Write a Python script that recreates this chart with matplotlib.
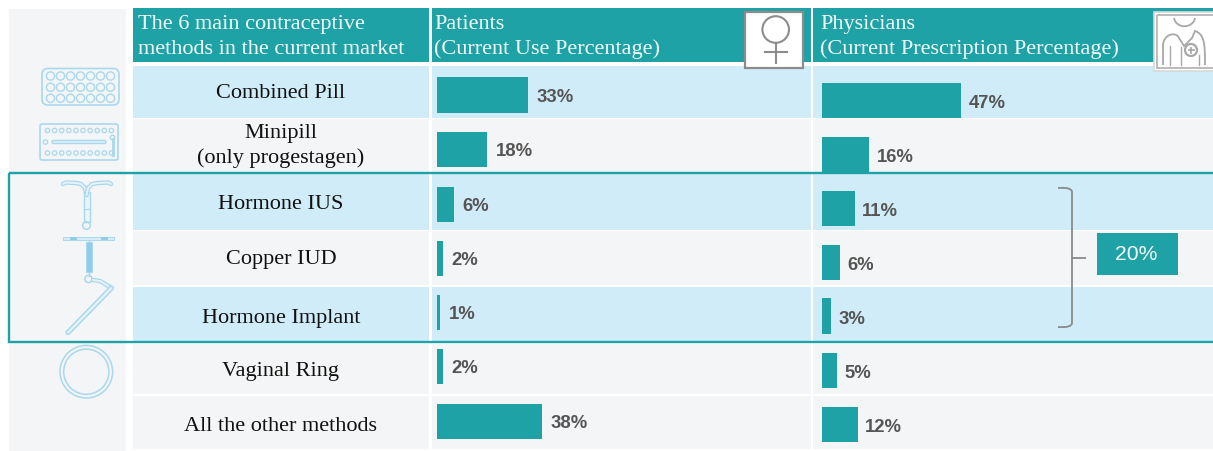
import matplotlib
matplotlib.use("Agg")
import matplotlib.pyplot as plt
from matplotlib.patches import Rectangle, FancyBboxPatch, Circle, PathPatch
from matplotlib.path import Path

methods = ["Combined Pill", "Minipill\n(only progestagen)", "Hormone IUS", "Copper IUD",
           "Hormone Implant", "Vaginal Ring", "All the other methods"]
patients = [33, 18, 6, 2, 1, 2, 38]
physicians = [47, 16, 11, 6, 3, 5, 12]
header_titles = ["The 6 main contraceptive\nmethods in the current market",
                 "Patients\n(Current Use Percentage)",
                 "Physicians\n(Current Prescription Percentage)"]
group_total = "20%"

TEAL = "#1fa2a5"; BLUE = "#d0ecf9"; GREY = "#f4f5f6"; ICON = "#a9d8ee"; DARK = "#555555"; TXT = "#111111"
PANEL = "#f3f5f7"
W, H = 1213, 452
YLIM = (H - 1, -1)
fig = plt.figure(figsize=(W/100, H/100), dpi=100, facecolor="white")
ax = fig.add_axes([0, 0, 1, 1]); ax.set_xlim(0, W); ax.set_ylim(*YLIM); ax.axis("off")
SERIF = "Liberation Serif"; SANS = "Liberation Sans"

def rect(x0, y0, x1, y1, **k):
    k.setdefault("lw", 0)
    ax.add_patch(Rectangle((x0, y0), x1-x0, y1-y0, **k))

rect(9, 9, 126, 453, fc=PANEL)
cols = [(133, 429), (432, 811), (813, 1213)]
rows = [(65.5, 117.5), (118.5, 172), (174, 230), (231, 285), (287, 341), (344, 394), (396, 449)]
shades = [BLUE, GREY, BLUE, GREY, BLUE, GREY, GREY]
for (x0, x1), t, tx in zip(cols, header_titles, [138, 434, 820]):
    rect(x0, 8, x1, 61.5, fc=TEAL)
    ax.text(tx, 36, t, color="#f2fbfb", family=SERIF, fontsize=16, va="center", ha="left", linespacing=1.36)
for (y0, y1), s in zip(rows, shades):
    for x0, x1 in cols:
        rect(x0, y0, x1, y1, fc=s)
text_y = [93, 145, 203.5, 259, 317.5, 371, 426]
for m, y in zip(methods, text_y):
    ax.text(281, y, m, family=SERIF, fontsize=16, color=TXT, ha="center", va="center", linespacing=1.32)

def bar_axes(x0, px_per_pct, centers, vals, lab_offset, lab_dy):
    a = fig.add_axes([x0/W, 0, (W-x0)/W, 1], facecolor="none")
    a.set_xlim(0, (W-x0)/px_per_pct); a.set_ylim(*YLIM); a.axis("off")
    a.barh(centers, vals, height=35.5, color=TEAL, lw=0)
    for c, v in zip(centers, vals):
        a.text(v + lab_offset/px_per_pct, c+lab_dy, f"{v}%", family=SANS, weight="bold", fontsize=13.3,
               color=DARK, va="center", ha="left")
bar_axes(437.3, 2.76, [95, 149.5, 204.5, 258.5, 312.5, 366.5, 421.5], patients, 8.5, 1.5)
bar_axes(822, 2.96, [100.5, 154.5, 208.5, 262.5, 316, 370.5, 424.5], physicians, 7.5, 2.5)

ax2 = fig.add_axes([0, 0, 1, 1], facecolor="none"); ax2.set_xlim(0, W); ax2.set_ylim(*YLIM); ax2.axis("off")
ax2.add_patch(Rectangle((9, 172.5), 1210, 169, fc="none", ec=TEAL, lw=1.7))

b = Path([(1058, 188), (1072, 187), (1072, 192), (1072, 258), (1072, 258), (1086, 258), (1072, 258),
          (1072, 323), (1072, 328), (1058, 327)],
         [1, 3, 3, 2, 3, 3, 1, 2, 3, 3])
ax2.add_patch(PathPatch(b, fc="none", ec="#8a8a8a", lw=1.3))
ax2.add_patch(Rectangle((1097, 232.5), 81, 42, fc=TEAL, lw=0))
ax2.text(1136.5, 254, group_total, color="#f2fbfb", family=SANS, fontsize=15.2, ha="center", va="center")

F = "#8c8c8c"
ax2.add_patch(Rectangle((745, 12), 58, 56, fc="white", ec=F, lw=1.6))
ax2.add_patch(Circle((775.7, 29.5), 13.3, fc="none", ec=F, lw=1.5))
ax2.plot([775.7, 775.7], [43, 63], color=F, lw=1.5)
ax2.plot([765, 787], [52, 52], color=F, lw=1.5)

ax2.add_patch(Rectangle((1154, 12), 62, 59, fc="white", ec="#d8d8d8", lw=1.2))
G = "#a8a8a8"
ax2.add_patch(Rectangle((1157, 15), 60, 53, fc="none", ec="#b5b5b5", lw=1.3))
ax2.add_patch(PathPatch(Path([(1174, 18), (1176, 29), (1193, 29), (1195, 18)], [1, 4, 4, 4]), fc="none", ec=G, lw=1.3))
ax2.add_patch(PathPatch(Path([(1163, 65), (1163, 46), (1163, 34), (1176, 31), (1179, 38), (1184, 46),
                              (1192, 38), (1195, 31), (1205, 34), (1205, 46), (1205, 65)],
                             [1, 2, 4, 4, 2, 2, 2, 2, 4, 4, 2]), fc="none", ec=G, lw=1.3))
for x, y0, y1 in ((1170, 46, 65), (1199, 55, 65), (1181, 47, 65)):
    ax2.plot([x, x], [y0, y1], color=G, lw=1)
ax2.add_patch(Circle((1191, 50), 6, fc="white", ec=G, lw=1.6))
ax2.plot([1188.5, 1193.5], [50, 50], color=G, lw=1.3); ax2.plot([1191, 1191], [47.5, 52.5], color=G, lw=1.3)

ax2.add_patch(FancyBboxPatch((42, 68.5), 77, 36.5, boxstyle="round,pad=0,rounding_size=6", fc="none", ec=ICON, lw=1.2))
for ry in (76, 87.3, 98.3):
    for i in range(7):
        ax2.add_patch(Circle((50.5 + i*10, ry), 4.1, fc="none", ec=ICON, lw=1))
ax2.add_patch(FancyBboxPatch((40, 124), 78, 36, boxstyle="round,pad=0,rounding_size=2", fc="none", ec=ICON, lw=1.2))
for ry in (130.5, 153):
    for i in range(10):
        ax2.add_patch(Circle((47.5 + i*7.1, ry), 2.2, fc="none", ec=ICON, lw=.9))
ax2.add_patch(Circle((45.5, 142), 2.2, fc="none", ec=ICON, lw=.9))
ax2.add_patch(FancyBboxPatch((52, 140.5), 54, 3, boxstyle="round,pad=0,rounding_size=1.5", fc="#e4f2f9", ec=ICON, lw=1))
ax2.plot([112.5, 112.5], [139, 155], color=ICON, lw=2)
ax2.add_patch(Circle((112.5, 137.5), 2.2, fc="none", ec=ICON, lw=1))

def tube(xs, ys, outer=3.2, inner=1.4):
    ax2.plot(xs, ys, color=ICON, lw=outer, solid_capstyle="round", solid_joinstyle="round")
    ax2.plot(xs, ys, color="#e8f3f9", lw=inner, solid_capstyle="round", solid_joinstyle="round")

tube([63, 66, 76, 81, 85, 86.5], [184, 182.5, 183, 184, 188, 195])
tube([111, 108, 98, 92, 88, 86.5], [184, 182.5, 183, 184, 188, 195])
ax2.add_patch(Rectangle((83.5, 192), 6, 30, fc="#eaf4f9", ec=ICON, lw=1))
ax2.plot([83.5, 89.5], [209, 209], color=ICON, lw=.8)
ax2.add_patch(Circle((86.5, 225.5), 3.8, fc="none", ec=ICON, lw=1.1))
ax2.add_patch(Rectangle((63, 236.5), 51, 3, fc="#d6ecf7", ec=ICON, lw=.7))
for x in (70, 101):
    ax2.add_patch(Rectangle((x, 236.5), 6.5, 3, fc="#8fcdea", lw=0))
ax2.plot([88.5, 88.5], [240, 242], color=ICON, lw=1)
ax2.add_patch(Rectangle((85.5, 242), 6, 30, fc="#8fcdea", ec=ICON, lw=.7))
ax2.plot([88.5, 88.5], [272, 276], color=ICON, lw=1)
ax2.add_patch(Circle((88.5, 279), 3.6, fc="none", ec=ICON, lw=1.1))
tube([93, 100, 110], [280, 281, 287])
tube([111.5, 68], [288, 332.5], outer=3.8, inner=1.6)
ax2.add_patch(Circle((86.3, 371.7), 26.3, fc="none", ec=ICON, lw=1.1))
ax2.add_patch(Circle((86.3, 371.7), 22.6, fc="none", ec=ICON, lw=1.1))

fig.savefig("out.png", dpi=100)
